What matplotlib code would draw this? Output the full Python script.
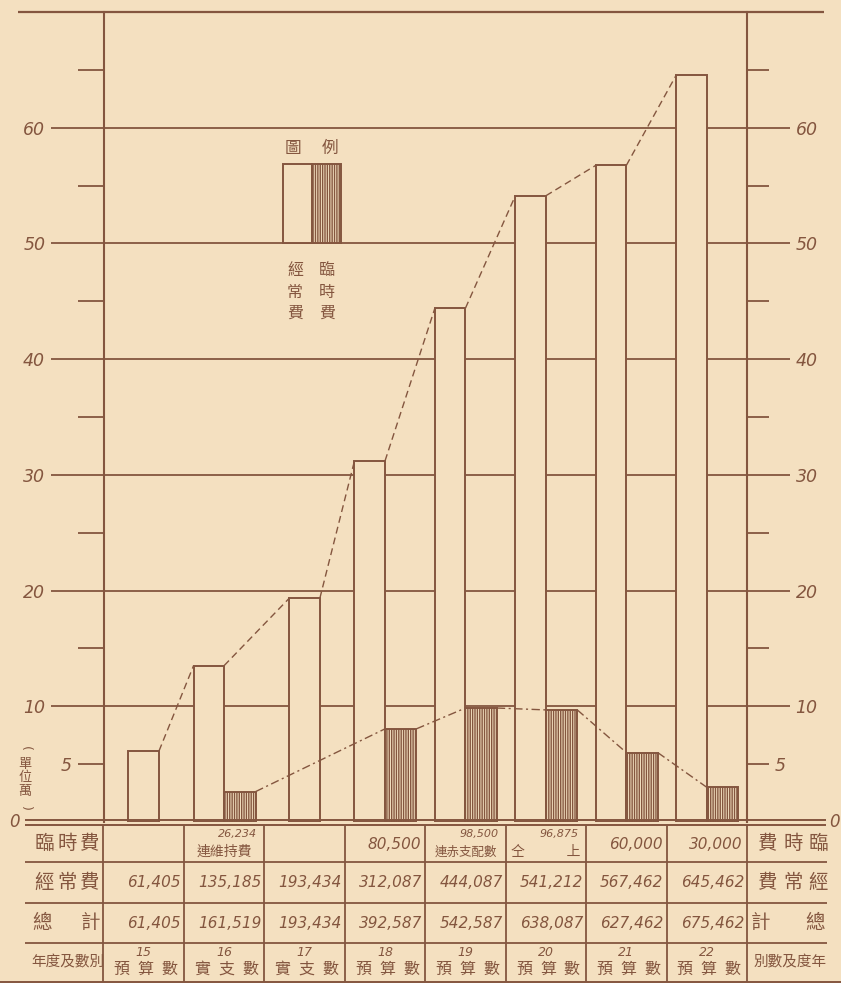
import matplotlib
matplotlib.use('Agg')
import matplotlib.pyplot as plt
from matplotlib.patches import Rectangle

plt.rcParams['font.family'] = ['Noto Sans CJK TC', 'DejaVu Sans']
plt.rcParams['hatch.linewidth'] = 1.0

# ---------------- data ----------------
years = ['15', '16', '17', '18', '19', '20', '21', '22']
kinds = ['預算數', '實支數', '實支數', '預算數', '預算數', '預算數', '預算數', '預算數']
ordinary = [61405, 135185, 193434, 312087, 444087, 541212, 567462, 645462]     # 經常費
temporary = [None, 26234, None, 80500, 98500, 96875, 60000, 30000]             # 臨時費
total = [61405, 161519, 193434, 392587, 542587, 638087, 627462, 675462]        # 總計
ord_labels = ['61,405', '135,185', '193,434', '312,087', '444,087', '541,212', '567,462', '645,462']
total_labels = ['61,405', '161,519', '193,434', '392,587', '542,587', '638,087', '627,462', '675,462']
temp_labels = ['', '26,234', '', '80,500', '98,500', '96,875', '60,000', '30,000']
temp_notes = ['', '連維持費', '', '', '連赤支配數', '仝\u3000\u3000\u3000上', '', '']
major_ticks = [10, 20, 30, 40, 50, 60]
minor_ticks = [5, 15, 25, 35, 45, 55, 65]
minor_labels = ['5', '', '', '', '', '', '']

BG = '#f4e0c0'
INK = '#84563f'

W_PX, H_PX = 841, 983
fig = plt.figure(figsize=(W_PX / 100, H_PX / 100), dpi=100, facecolor=BG)

L, R, TOP, BASE = 103.5, 747.0, 12.0, 822.0
ax = fig.add_axes([L / W_PX, 1 - BASE / H_PX, (R - L) / W_PX, (BASE - TOP) / H_PX])
ax.set_facecolor(BG)
ax.set_xlim(0, len(years))
ax.set_ylim(0, 70)
ncol = len(years)
colw = (R - L) / ncol

# ---------------- bars ----------------
vals_o = [v / 10000 for v in ordinary]
wx, wr = [], []
hx, hr, hv = [], [], []
for i, (o, t) in enumerate(zip(vals_o, temporary)):
    if t is None:
        x0 = i + 0.31
        ax.bar(x0, o, width=0.38, align='edge', facecolor=BG, edgecolor=INK, lw=1.4, zorder=3)
        wx.append(x0); wr.append(x0 + 0.38)
    else:
        x0 = i + 0.12
        ax.bar(x0, o, width=0.38, align='edge', facecolor=BG, edgecolor=INK, lw=1.4, zorder=3)
        wx.append(x0); wr.append(x0 + 0.38)
        xh = i + 0.50
        ax.bar(xh, t / 10000, width=0.39, align='edge', facecolor=BG, edgecolor=INK,
               hatch='|||||||', lw=1.4, zorder=3)
        hx.append(xh); hr.append(xh + 0.39); hv.append(t / 10000)

# connecting dashed lines
for i in range(ncol - 1):
    ax.plot([wr[i], wx[i + 1]], [vals_o[i], vals_o[i + 1]], color=INK, lw=1.0,
            ls=(0, (5, 3)), zorder=4)
for i in range(len(hv) - 1):
    ax.plot([hr[i], hx[i + 1]], [hv[i], hv[i + 1]], color=INK, lw=1.0,
            ls=(0, (6, 2.5, 1.5, 2.5)), zorder=4)

# ---------------- axes / ticks ----------------
for s in ['top', 'bottom']:
    ax.spines[s].set_visible(False)
for s in ['left', 'right']:
    ax.spines[s].set_color(INK)
    ax.spines[s].set_linewidth(1.5)
ax.set_xticks([])
ax.set_axisbelow(True)
ax.yaxis.grid(True, which='major', color=INK, lw=1.3)
ax.set_yticks(major_ticks, [str(t) for t in major_ticks], fontstyle='italic',
              fontfamily='DejaVu Sans', fontsize=12.5, color=INK)
ax.set_yticks(minor_ticks, minor_labels, minor=True, fontstyle='italic',
              fontfamily='DejaVu Sans', fontsize=12.5, color=INK)
ax.tick_params(axis='y', which='major', direction='out', length=38, width=1.3,
               color=INK, pad=4)
ax.tick_params(axis='y', which='minor', direction='out', length=19, width=1.3,
               color=INK, pad=4)

ax2 = ax.twinx()
ax2.set_ylim(0, 70)
for s in ['top', 'bottom', 'left', 'right']:
    ax2.spines[s].set_visible(False)
ax2.set_yticks(major_ticks, [str(t) for t in major_ticks], fontstyle='italic',
               fontfamily='DejaVu Sans', fontsize=12.5, color=INK)
ax2.set_yticks(minor_ticks, minor_labels, minor=True, fontstyle='italic',
               fontfamily='DejaVu Sans', fontsize=12.5, color=INK)
ax2.tick_params(axis='y', which='major', direction='out', length=31, width=1.3,
                color=INK, pad=4)
ax2.tick_params(axis='y', which='minor', direction='out', length=16, width=1.3,
                color=INK, pad=4)

# ---------------- overlay (frame, legend, table) ----------------
ov = fig.add_axes([0, 0, 1, 1], zorder=5)
ov.set_xlim(0, W_PX)
ov.set_ylim(H_PX, 0)
ov.axis('off')
ov.patch.set_alpha(0)

def hline(y, x0, x1, lw=1.4):
    ov.plot([x0, x1], [y, y], color=INK, lw=lw, solid_capstyle='butt')

def vline(x, y0, y1, lw=1.4):
    ov.plot([x, x], [y0, y1], color=INK, lw=lw, solid_capstyle='butt')

hline(TOP, 18, 824, 1.6)
hline(820, 25, 826, 1.4)
hline(824.5, 25, 826, 1.4)

rows = [824.5, 862, 903, 943, 982]
for y in rows[1:4]:
    hline(y, 25, 827, 1.3)
hline(982, 0, 841, 1.4)
cols = [L + i * colw for i in range(ncol + 1)]
for x in cols:
    vline(x, 824.5, 982, 1.3)

numkw = dict(color=INK, fontfamily='DejaVu Sans', fontstyle='italic')
ov.text(14, 822, '0', ha='center', va='center', fontsize=12, **numkw)
ov.text(834, 822, '0', ha='center', va='center', fontsize=12, **numkw)

def spaced(text, xc, y, spacing, fs):
    n = len(text)
    for k, ch in enumerate(text):
        ov.text(xc + (k - (n - 1) / 2) * spacing, y, ch, ha='center', va='center',
                fontsize=fs, color=INK)

rc = [(rows[k] + rows[k + 1]) / 2 for k in range(4)]
# left header column
spaced('臨時費', 67, rc[0], 23, 14)
spaced('經常費', 67, rc[1], 23, 14)
ov.text(42, rc[2], '總', ha='center', va='center', fontsize=14, color=INK)
ov.text(91, rc[2], '計', ha='center', va='center', fontsize=14, color=INK)
ov.text(68, rc[3], '年度及數別', ha='center', va='center', fontsize=10.5, color=INK)
# right header column (written right to left)
spaced('費時臨', 793, rc[0], 25, 14)
spaced('費常經', 793, rc[1], 25, 14)
ov.text(761, rc[2], '計', ha='center', va='center', fontsize=14, color=INK)
ov.text(815, rc[2], '總', ha='center', va='center', fontsize=14, color=INK)
ov.text(790, rc[3], '別數及度年', ha='center', va='center', fontsize=10.5, color=INK)

for i in range(ncol):
    xl, xr = cols[i], cols[i + 1]
    xc = (xl + xr) / 2
    # 臨時費 row
    if temp_notes[i]:
        ov.text(xr - 7, 834, temp_labels[i], ha='right', va='center', fontsize=8, **numkw)
        fs = 9 if len(temp_notes[i]) >= 5 and '仝' not in temp_notes[i] else 10
        ov.text(xc, 852, temp_notes[i], ha='center', va='center', fontsize=fs, color=INK)
    elif temp_labels[i]:
        ov.text(xr - 4, rc[0] + 1, temp_labels[i], ha='right', va='center', fontsize=11, **numkw)
    # 經常費 row
    ov.text(xr - 3, rc[1], ord_labels[i], ha='right', va='center', fontsize=11, **numkw)
    # 總計 row
    ov.text(xr - 3, rc[2], total_labels[i], ha='right', va='center', fontsize=11, **numkw)
    # 年度及數別 row
    ov.text(xc, 952, years[i], ha='center', va='center', fontsize=9, **numkw)
    spaced(kinds[i], xc + 2, 969, 24, 11.5)

# y unit label (vertical writing)
ov.text(25, 748, '(', ha='center', va='center', fontsize=9, color=INK,
        fontfamily='DejaVu Sans', rotation=-90)
ov.text(25, 778, '單\n位\n萬', ha='center', va='center', fontsize=9.5,
        color=INK, linespacing=1.05)
ov.text(25, 808, ')', ha='center', va='center', fontsize=9, color=INK,
        fontfamily='DejaVu Sans', rotation=-90)

# legend
ov.add_patch(Rectangle((283, 164), 29, 79, facecolor=BG, edgecolor=INK, lw=1.4))
ov.add_patch(Rectangle((312, 164), 29, 79, facecolor=BG, edgecolor=INK, lw=1.4,
                       hatch='|||||||'))
ov.text(293, 148, '圖', ha='center', va='center', fontsize=12, color=INK)
ov.text(330, 148, '例', ha='center', va='center', fontsize=12, color=INK)
ov.text(295, 262, '經\n常\n費', ha='center', va='top', fontsize=11.5, color=INK,
        linespacing=1.35)
ov.text(327, 262, '臨\n時\n費', ha='center', va='top', fontsize=11.5, color=INK,
        linespacing=1.35)

fig.savefig('out.png', dpi=100, facecolor=BG)
